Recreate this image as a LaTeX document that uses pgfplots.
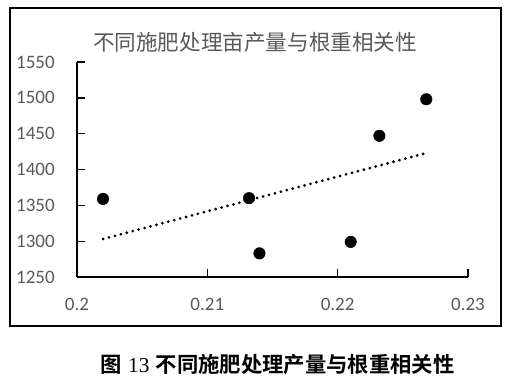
\documentclass[border=0pt]{standalone}
\usepackage{pgfplots}
\pgfplotsset{compat=1.18}
\usepackage{fontspec}
\setmainfont{Carlito}
\newfontfamily\cjk{Noto Sans CJK SC}
\newfontfamily\cjkb{Noto Sans CJK SC}[BoldFont={* Bold}]
\newfontfamily\serifnum{Liberation Serif}
\definecolor{txtgray}{RGB}{89,89,89}
\begin{document}
\begin{tikzpicture}
\useasboundingbox (0,0) rectangle (390pt,290.25pt);
\draw[line width=1.5pt,black] (7.5pt,45.75pt) rectangle (375.75pt,284.25pt);
\begin{axis}[
  at={(57.75pt,82.5pt)}, anchor=south west,
  scale only axis, width=293.25pt, height=161.25pt,
  xmin=0.2, xmax=0.23, ymin=1250, ymax=1550,
  xtick={0.2,0.21,0.22,0.23}, xticklabels={0.2,0.21,0.22,0.23},
  ytick={1250,1300,1350,1400,1450,1500,1550},
  yticklabels={1250,1300,1350,1400,1450,1500,1550},
  axis x line*=bottom, axis y line*=left,
  axis line style={black, line width=1pt, -},
  tick align=inside, major tick length=6pt,
  tick style={black, line width=1pt},
  /pgf/number format/assume math mode=true,
  ticklabel style={font=\fontsize{14.25}{16}\selectfont, text=txtgray, inner sep=0pt},
  yticklabel style={anchor=east, xshift=-16.5pt},
  xticklabel style={anchor=north, yshift=-15.5pt},
  clip=false,
]
\addplot[only marks, mark=*, mark size=4.3pt, black] coordinates {
  (0.2020,1359) (0.2132,1360) (0.2140,1283) (0.2210,1299) (0.2232,1447) (0.2268,1498)
};
\addplot[black, line width=2.3pt, line cap=round, dash pattern=on 0pt off 4.6pt] coordinates {
  (0.2020,1303) (0.2268,1423)
};
\end{axis}
\node[font=\cjk\fontsize{16.2}{18}\selectfont, text=txtgray, inner sep=0pt] at (191.25pt,258.75pt) {不同施肥处理亩产量与根重相关性};
\node[text=black, font=\cjkb\bfseries\fontsize{16}{18}\selectfont, inner sep=0pt] at (208.1pt,17.25pt) {图\hspace{0.3em}{\serifnum\mdseries 13}\hspace{0.3em}不同施肥处理产量与根重相关性};
\end{tikzpicture}
\end{document}
